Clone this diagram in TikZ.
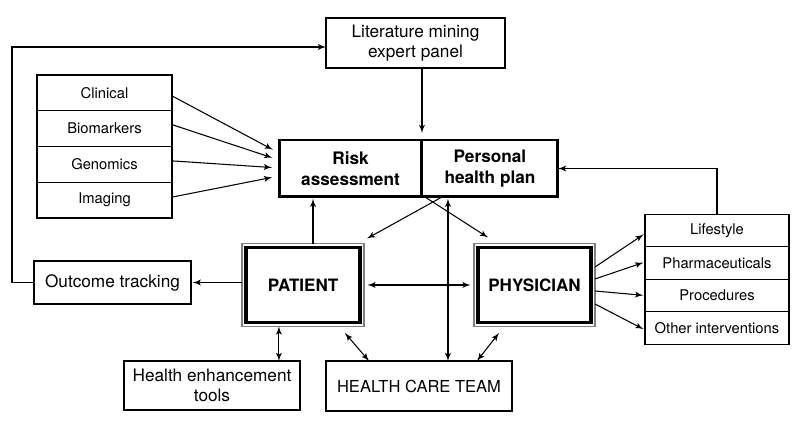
\documentclass[tikz,border=0pt]{standalone}
\usepackage{fontspec}
\setmainfont{TeX Gyre Heros}
\usetikzlibrary{arrows,positioning}

\begin{document}
\begin{tikzpicture}[>=latex',x=0.02cm,y=-0.02cm,line width=0.6pt]
\tikzstyle{every node}=[font=\fontsize{9.8}{11.5}\selectfont,align=center]
\tikzstyle{plain box}=[draw,rectangle,inner sep=0pt,outer sep=0pt]
\tikzstyle{cell}=[plain box,minimum width=2.7cm,minimum height=0.715cm,font=\fontsize{8.4}{10}\selectfont]
\tikzstyle{rcell}=[cell,minimum width=2.88cm,minimum height=0.65cm]
\tikzstyle{plan box}=[plain box,line width=1.7pt,minimum height=1.14cm,font=\bfseries\fontsize{9.8}{12}\selectfont]
\tikzstyle{actor}=[plain box,draw=gray,line width=1.1pt,minimum width=2.44cm,minimum height=1.66cm,font=\bfseries\fontsize{9.7}{11.5}\selectfont]
\useasboundingbox (0,0) rectangle (798,431);

\node[plain box,minimum width=3.58cm,minimum height=1cm]
    (lit) at (415.5,43) {Literature mining\\expert panel};

% data sources
\node[cell] (clin) at (104.5,92.9) {Clinical};
\node[cell,below=0pt of clin] (bio) {Biomarkers};
\node[cell,below=0pt of bio]  (gen) {Genomics};
\node[cell,below=0pt of gen]  (img) {Imaging};

\node[plan box,minimum width=2.86cm]
    (risk) at (350.5,168.5) {Risk\\assessment};
\node[plan box,minimum width=2.72cm,right=0pt of risk]
    (pers) {Personal\\health plan};

\node[actor] (pat) at (303,285) {PATIENT};
\node[actor,minimum width=2.42cm] (phys) at (534.5,285) {PHYSICIAN};
\foreach \n in {pat,phys}
  \draw[line width=1.8pt] ([shift={(4,4)}]\n.north west) rectangle ([shift={(-4,-4)}]\n.south east);

\node[plain box,minimum width=3.14cm,minimum height=0.86cm]
    (outc) at (112.5,282.5) {Outcome tracking};
\node[plain box,minimum width=3.52cm,minimum height=0.98cm]
    (hen) at (212,385.5) {Health enhancement\\tools};
\node[plain box,minimum width=3.72cm,minimum height=1cm,font=\fontsize{9.4}{11}\selectfont]
    (team) at (419,386) {HEALTH CARE TEAM};

% interventions
\node[rcell] (life) at (717,230.5) {Lifestyle};
\node[rcell,below=0pt of life]  (pharm) {Pharmaceuticals};
\node[rcell,below=0pt of pharm] (proc)  {Procedures};
\node[rcell,below=0pt of proc]  (other) {Other interventions};

% connectors
\coordinate (corner) at (12,47);
\draw[->] (outc.west) -| (corner) -- (corner -| lit.west);
\draw[->,shorten >=4pt] (lit.south -| pers.north west) -- (pers.north west);
\foreach \src/\a/\b in {clin/3/-15.5,bio/-4/-8.5,gen/-3.5/-0.5,img/-3/7.5}
  \draw[->,shorten >=4pt] ([shift={(0,\a)}]\src.east) -- ([shift={(0,\b)}]risk.west);
\draw[->] (life.north) |- (pers.east);
\draw[->,shorten >=1pt] ([xshift=5.7pt]pat.north) -- ([xshift=5.7pt]pat.north |- risk.south);
\draw[->] ([shift={(3,0)}]risk.south east) -- ([shift={(14,-6)}]phys.north west);
\draw[->] ([shift={(20,0)}]pers.south west) -- ([shift={(3,-5)}]pat.north east);
\draw[<->,shorten <=1pt] ([shift={(26,0)}]pers.south west) -- ([shift={(26,0)}]pers.south west |- team.north);
\draw[<->,shorten <=2pt,shorten >=2pt] (pat.east) -- (phys.west);
\draw[->,shorten >=1pt] (outc.east -| pat.west) -- (outc.east);
\draw[<->] ([xshift=-13.7pt]pat.south) -- ([xshift=-13.7pt]pat.south |- hen.north);
\draw[<->] ([shift={(-19,6.5)}]pat.south east) -- ([shift={(43,0)}]team.north west);
\draw[<->] ([shift={(25,6.5)}]phys.south west) -- ([shift={(-35,0)}]team.north east);
\foreach \a/\b/\cell in {-18/3/life,-6/-1/pharm,6/0/proc,19/2/other}
  \draw[->,shorten >=1pt] ([shift={(0,\a)}]phys.east) -- ([shift={(0,\b)}]\cell.west);
\end{tikzpicture}
\end{document}
